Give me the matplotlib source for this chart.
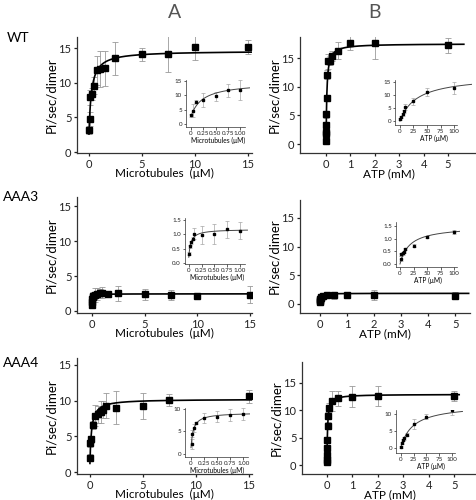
import numpy as np
import matplotlib.pyplot as plt

plt.rcParams['font.family'] = ['Lato', 'DejaVu Sans']

# ---- WT ----
wt_mt_x = [0.01, 0.05, 0.1, 0.25, 0.5, 0.75, 1.0, 1.5, 2.5, 5, 7.5, 10, 15]
wt_mt_y = [3.2, 4.8, 7.9, 8.4, 9.6, 11.8, 12.0, 12.1, 13.5, 14.1, 14.1, 15.2, 15.1]
wt_mt_e = [0.6, 1.0, 1.1, 0.9, 1.2, 2.1, 2.6, 2.5, 2.4, 0.9, 2.6, 1.9, 1.0]
wt_mt_in_x = [0.01, 0.05, 0.1, 0.25, 0.5, 0.75, 1.0]
wt_mt_in_y = [3.0, 4.7, 7.8, 8.3, 9.6, 11.8, 12.0]
wt_mt_in_e = [0.6, 2.3, 0.4, 2.5, 1.7, 2.3, 3.5]
wt_mt_fit = [2.6, 12.0, 0.237]

wt_atp_x = [0.001, 0.0025, 0.005, 0.0075, 0.01, 0.025, 0.05, 0.08, 0.15, 0.25, 0.5, 1, 2, 5]
wt_atp_y = [0.6, 1.8, 2.1, 3.3, 5.2, 8.1, 12.1, 14.4, 14.5, 15.3, 16.3, 17.6, 17.6, 17.2]
wt_atp_e = [0.3, 0.3, 0.4, 0.5, 0.6, 0.5, 0.8, 1.3, 0.8, 0.9, 1.5, 1.2, 2.7, 1.3]
wt_atp_in_x = [1, 2.5, 5, 7.5, 10, 25, 50, 100]
wt_atp_in_y = [0.7, 1.6, 2.6, 3.7, 5.3, 7.6, 11.1, 12.7]
wt_atp_in_e = [0.3, 0.4, 0.5, 0.5, 1.2, 1.4, 1.6, 2.4]
wt_atp_fit = [0.0, 17.5, 0.0316]
wt_atp_in_fit = [0.0, 17.5, 31.6]

# ---- AAA3 ----
a3_mt_x = [0.01, 0.025, 0.05, 0.075, 0.1, 0.25, 0.5, 0.75, 1.0, 1.5, 2.5, 5, 7.5, 10, 15]
a3_mt_y = [0.8, 1.3, 1.7, 2.0, 2.2, 2.3, 2.4, 2.5, 2.6, 2.4, 2.5, 2.4, 2.3, 2.2, 2.3]
a3_mt_e = [0.2, 0.3, 0.3, 0.4, 0.5, 1.0, 0.9, 0.7, 0.8, 0.2, 1.1, 0.8, 0.7, 0.4, 1.2]
a3_mt_in_x = [0.005, 0.025, 0.05, 0.075, 0.1, 0.25, 0.5, 0.75, 1.0]
a3_mt_in_y = [0.33, 0.58, 0.73, 0.85, 1.02, 0.98, 1.0, 1.18, 1.12]
a3_mt_in_e = [0.05, 0.05, 0.05, 0.05, 0.2, 0.3, 0.35, 0.3, 0.3]
a3_mt_fit = [0.8, 1.65, 0.05]
a3_mt_in_fit = [0.2, 0.98, 0.04]

a3_atp_x = [0.001, 0.0025, 0.005, 0.01, 0.025, 0.05, 0.1, 0.25, 0.5, 1, 2, 5]
a3_atp_y = [0.3, 0.5, 0.7, 0.9, 1.1, 1.3, 1.4, 1.5, 1.5, 1.6, 1.6, 1.45]
a3_atp_e = [0.1, 0.1, 0.1, 0.15, 0.2, 0.3, 0.3, 0.4, 0.6, 0.3, 0.9, 0.6]
a3_atp_in_x = [1, 2.5, 5, 7.5, 10, 25, 50, 100]
a3_atp_in_y = [0.2, 0.38, 0.42, 0.48, 0.6, 0.73, 1.07, 1.27]
a3_atp_in_e = [0.1, 0.05, 0.05, 0.05, 0.05, 0.07, 0.04, 0.07]
a3_atp_fit = [0.0, 1.85, 0.02]
a3_atp_in_fit = [0.0, 1.5, 18.0]

# ---- AAA4 ----
a4_mt_x = [0.01, 0.05, 0.1, 0.25, 0.5, 0.75, 1.0, 1.25, 1.5, 2.5, 5, 7.5, 15]
a4_mt_y = [2.0, 4.0, 4.6, 6.6, 7.9, 8.1, 8.4, 8.7, 9.3, 9.0, 9.2, 10.1, 10.6]
a4_mt_e = [0.5, 0.5, 0.5, 0.6, 1.5, 1.2, 1.5, 1.2, 1.7, 2.3, 1.8, 0.8, 0.9]
a4_mt_in_x = [0.01, 0.025, 0.05, 0.1, 0.25, 0.5, 0.75, 1.0]
a4_mt_in_y = [2.3, 4.5, 5.7, 6.9, 8.0, 8.3, 8.7, 8.8]
a4_mt_in_e = [1.1, 0.8, 0.9, 0.3, 1.2, 1.3, 1.3, 1.3]
a4_mt_fit = [1.2, 9.0, 0.15]
a4_mt_in_fit = [1.4, 7.8, 0.047]

a4_atp_x = [0.001, 0.0025, 0.005, 0.0075, 0.01, 0.025, 0.05, 0.075, 0.2, 0.45, 1, 2, 5]
a4_atp_y = [0.55, 1.0, 1.9, 3.1, 4.6, 7.2, 9.0, 10.5, 11.7, 12.2, 12.5, 12.6, 12.6]
a4_atp_e = [0.2, 0.3, 0.3, 0.4, 0.5, 0.6, 0.6, 0.8, 1.9, 1.4, 1.9, 1.9, 0.9]
a4_atp_in_x = [1, 2.5, 5, 7.5, 12.5, 25, 50, 100]
a4_atp_in_y = [0.3, 1.5, 2.3, 2.8, 3.9, 7.1, 9.2, 11.2]
a4_atp_in_e = [0.3, 0.3, 0.4, 0.4, 0.5, 1.5, 0.8, 1.5]
a4_atp_fit = [0.0, 12.9, 0.0238]
a4_atp_in_fit = [0.0, 12.9, 23.8]

mt_ticks = [0, 5, 10, 15]
atp_ticks = [0, 1, 2, 3, 4, 5]
mt_in_ticks = [0, 0.25, 0.5, 0.75, 1.0]
mt_in_labels = ['0', '0.25', '0.50', '0.75', '1.00']
atp_in_ticks = [0, 25, 50, 75, 100]


def mm(x, y0, vmax, km):
    return y0 + vmax * x / (km + x)


def style(ax, lw, size, tl, pad):
    for s in ['top', 'right']:
        ax.spines[s].set_visible(False)
    for s in ['left', 'bottom']:
        ax.spines[s].set_linewidth(lw)
        ax.spines[s].set_color('#333333')
    ax.tick_params(labelsize=size, length=tl, width=lw, pad=pad, colors='#222222')
    ax.patch.set_alpha(0)


def main_panel(rect, x, y, e, fit, xmax, xlim, ylim, xticks, xlabel):
    ax = fig.add_axes(rect)
    ax.errorbar(x, y, yerr=e, fmt='none', ecolor='#9a9a9a', elinewidth=0.6,
                capsize=2, capthick=0.6, zorder=1)
    xs = np.linspace(0, xmax, 3000)
    ax.plot(xs, mm(xs, *fit), color='black', lw=1.2, zorder=2)
    ax.plot(x, y, 's', color='black', ms=4.2, zorder=3)
    ax.set_xlim(*xlim)
    ax.set_ylim(*ylim)
    ax.set_xticks(xticks)
    ax.set_yticks([0, 5, 10, 15])
    style(ax, 0.9, 8, 2.5, 1.5)
    ax.set_ylabel('Pi/sec/dimer', fontsize=9.5, labelpad=1)
    ax.set_xlabel(xlabel, fontsize=8.5, labelpad=-1)
    return ax


def inset_panel(rect, x, y, e, fit, xmax, xlim, xend, ylim, xticks, xlabels, yticks, ylabels, xlabel):
    ax = fig.add_axes(rect)
    ax.errorbar(x, y, yerr=e, fmt='none', ecolor='#a5a5a5', elinewidth=0.5,
                capsize=1.2, capthick=0.5, zorder=1)
    xs = np.linspace(0, xmax, 2000)
    ax.plot(xs, mm(xs, *fit), color='#444444', lw=0.7, zorder=2)
    ax.plot(x, y, 's', color='black', ms=1.8, zorder=3)
    ax.set_xlim(*xlim)
    ax.set_ylim(*ylim)
    ax.set_xticks(xticks)
    ax.set_xticklabels(xlabels)
    ax.set_yticks(yticks)
    ax.set_yticklabels(ylabels)
    style(ax, 0.5, 4.5, 1.8, 1)
    ax.spines['bottom'].set_bounds(xlim[0], xend)
    ax.set_xlabel(xlabel, fontsize=4.8, labelpad=0.5)
    return ax


fig = plt.figure(figsize=(4.77, 5.0), dpi=100)
W, H = 477.0, 500.0


def r(l, t, rgt, b):
    return [l / W, 1 - b / H, (rgt - l) / W, (b - t) / H]


mt_lab = 'Microtubules  (\u03bcM)'
atp_lab = 'ATP (mM)'
mt_in_lab = 'Microtubules (\u03bcM)'
atp_in_lab = 'ATP (\u03bcM)'

# row 1
main_panel(r(77, 37, 252, 153), wt_mt_x, wt_mt_y, wt_mt_e, wt_mt_fit, 15.3,
           (-1.13, 15.38), (-0.14, 16.6), mt_ticks, mt_lab)
main_panel(r(300, 37, 477, 153), wt_atp_x, wt_atp_y, wt_atp_e, wt_atp_fit, 5.65,
           (-1.07, 6.19), (-1.57, 18.67), atp_ticks, atp_lab)
inset_panel(r(186, 80, 250, 127), wt_mt_in_x, wt_mt_in_y, wt_mt_in_e, wt_mt_fit, 1.2,
            (-0.1, 1.2), 1.1, (-1.05, 15.35), mt_in_ticks, mt_in_labels,
            [0, 5, 10, 15], ['0', '5', '10', '15'], mt_in_lab)
inset_panel(r(395, 80, 472, 125), wt_atp_in_x, wt_atp_in_y, wt_atp_in_e, wt_atp_in_fit, 133,
            (-9, 133), 105, (-1.5, 15.8), atp_in_ticks, ['0', '25', '50', '75', '100'],
            [0, 5, 10, 15], ['0', '5', '10', '15'], atp_in_lab)

# row 2
main_panel(r(77, 197, 252, 313), a3_mt_x, a3_mt_y, a3_mt_e, a3_mt_fit, 15.2,
           (-1.42, 15.19), (-0.29, 16.3), mt_ticks, mt_lab)
main_panel(r(300, 200, 470, 313), a3_atp_x, a3_atp_y, a3_atp_e, a3_atp_fit, 5.5,
           (-0.74, 5.55), (-1.57, 18.1), atp_ticks, atp_lab)
inset_panel(r(185, 218, 250, 264), a3_mt_in_x, a3_mt_in_y, a3_mt_in_e, a3_mt_in_fit, 1.15,
            (-0.074, 1.2), 1.1, (-0.035, 1.57), mt_in_ticks, mt_in_labels,
            [0, 0.5, 1.0, 1.5], ['0.0', '0.5', '1.0', '1.5'], mt_in_lab)
inset_panel(r(396, 222, 460, 267), a3_atp_in_x, a3_atp_in_y, a3_atp_in_e, a3_atp_in_fit, 111,
            (-7.4, 111), 105, (-0.12, 1.66), atp_in_ticks, ['0', '25', '50', '75', '100'],
            [0, 0.5, 1.0, 1.5], ['0.0', '0.5', '1.0', '1.5'], atp_in_lab)

# row 3
main_panel(r(77, 358, 252, 474), a4_mt_x, a4_mt_y, a4_mt_e, a4_mt_fit, 15.3,
           (-1.22, 15.28), (-0.28, 15.97), mt_ticks, mt_lab)
main_panel(r(302, 362, 477, 474), a4_atp_x, a4_atp_y, a4_atp_e, a4_atp_fit, 5.2,
           (-0.98, 5.9), (-1.63, 18.8), atp_ticks, atp_lab)
inset_panel(r(185, 408, 250, 457), a4_mt_in_x, a4_mt_in_y, a4_mt_in_e, a4_mt_in_fit, 1.13,
            (-0.115, 1.13), 1.1, (-0.67, 10.2), mt_in_ticks, mt_in_labels,
            [0, 5, 10], ['0', '5', '10'], mt_in_lab)
inset_panel(r(396, 410, 465, 453), a4_atp_in_x, a4_atp_in_y, a4_atp_in_e, a4_atp_in_fit, 120,
            (-9, 125), 105, (-1.5, 11.2), atp_in_ticks, ['0', '25', '50', '75', '100'],
            [0, 5, 10], ['0', '5', '10'], atp_in_lab)

# panel and row titles
fig.text(175 / W, 1 - 13 / H, 'A', fontsize=14, color='#555555', ha='center', va='center')
fig.text(375 / W, 1 - 13 / H, 'B', fontsize=14, color='#555555', ha='center', va='center')
fig.text(7 / W, 1 - 38 / H, 'WT', fontsize=10, ha='left', va='center')
fig.text(3 / W, 1 - 197 / H, 'AAA3', fontsize=10, ha='left', va='center')
fig.text(3 / W, 1 - 363 / H, 'AAA4', fontsize=10, ha='left', va='center')

fig.savefig('out.png', dpi=100)
